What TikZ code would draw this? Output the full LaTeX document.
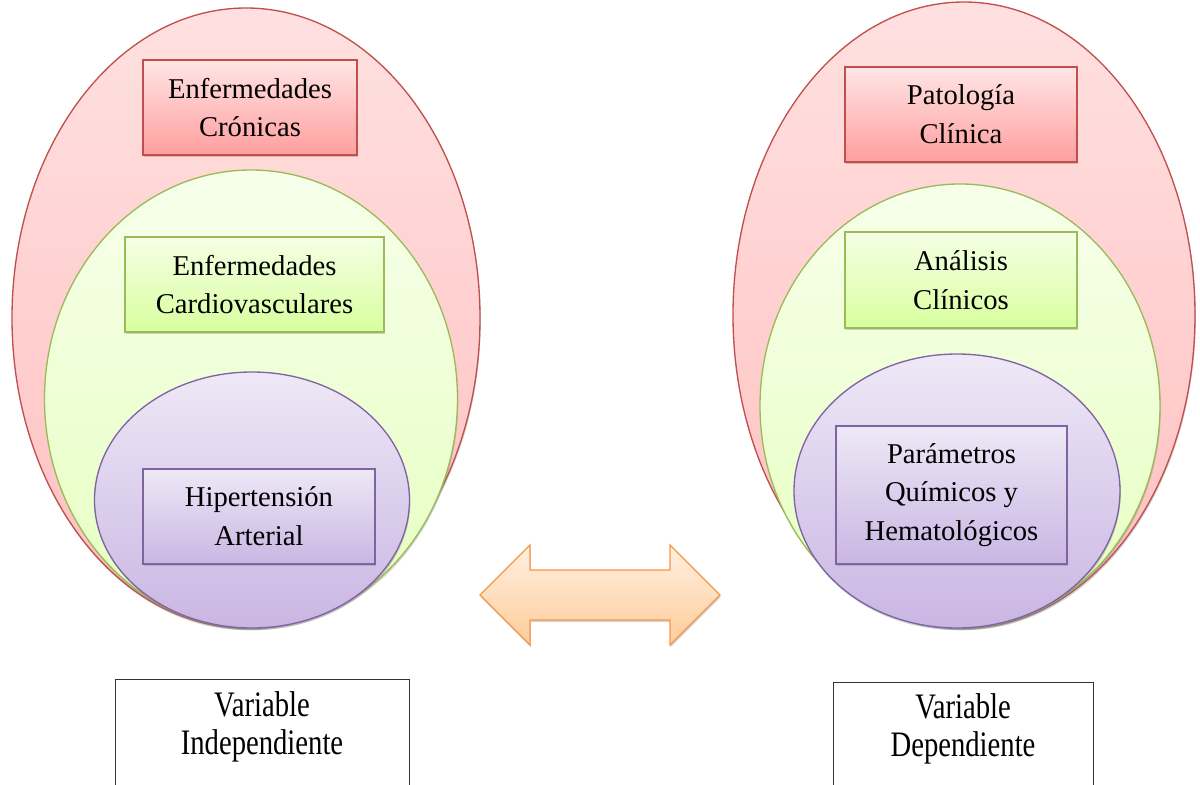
\documentclass[tikz,border=0pt]{standalone}
\usepackage{fontspec}
\setmainfont{Liberation Serif}
\newfontfamily\tnr{Liberation Serif}
\usetikzlibrary{shapes.geometric,shadows}
\definecolor{redline}{HTML}{C0504D}
\definecolor{greenline}{HTML}{9BBB59}
\definecolor{purpleline}{HTML}{8064A2}
\definecolor{orangeline}{HTML}{F79646}
\definecolor{purptop}{HTML}{EEE8F6}
\definecolor{purpbot}{HTML}{C9B6E3}
\tikzset{
  shd/.style={drop shadow={shadow xshift=0.6pt,shadow yshift=-1.6pt,opacity=0.35}},
  oval/.style={ellipse,inner sep=0pt,outer sep=0pt,line width=1pt,shd},
  redoval/.style={oval,draw=redline,top color=red!12!white,bottom color=red!25!white},
  greenoval/.style={oval,draw=greenline,top color=green!40!yellow!8!white,bottom color=green!40!yellow!25!white},
  purpleoval/.style={oval,draw=purpleline,top color=purptop,bottom color=purpbot},
  box/.style={rectangle,inner sep=0pt,line width=1pt,align=center,minimum height=71.25pt,
    font=\tnr\fontsize{21.5}{29}\selectfont,shd},
  redbox/.style={box,draw=redline,top color=red!10!white,bottom color=red!38!white},
  greenbox/.style={box,draw=greenline,top color=green!40!yellow!10!white,bottom color=green!40!yellow!38!white},
  purplebox/.style={box,draw=purpleline,top color=purptop,bottom color=purpbot},
  varbox/.style={rectangle,draw=black!80,line width=0.6pt,fill=white,anchor=north west,inner sep=0pt},
  vartext/.style={align=center,font=\tnr\fontsize{21.5}{29}\selectfont},
  dblarrow/.style={draw=orangeline,line width=1pt,line join=miter,
    top color=orange!12!white,bottom color=orange!40!white,shd}
}
\newcommand{\vs}[1]{\scalebox{1}[1.25]{#1}}
\begin{document}
\begin{tikzpicture}[x=0.75pt,y=-0.75pt]
\useasboundingbox (0,0) rectangle (1200,785);
\clip (0,0) rectangle (1200,785);
% left group
\node[redoval,minimum width=351pt,minimum height=465pt] (lred) at (246,318) {};
\node[greenoval,minimum width=309.75pt,minimum height=343.5pt] (lgreen) at (251,399) {};
\node[purpleoval,minimum width=236.25pt,minimum height=192pt] (lpurple) at (252,500) {};
\node[redbox,minimum width=160.5pt] (lredbox) at (250,107.5) {Enfermedades\\Crónicas};
\node[greenbox,minimum width=194.25pt] (lgreenbox) at (254.5,284.5) {Enfermedades\\Cardiovasculares};
\node[purplebox,minimum width=174pt] (lpurplebox) at (259,516.5) {Hipertensión\\Arterial};
% right group
\node[redoval,minimum width=346.5pt,minimum height=469.5pt] (rred) at (964,315) {};
\node[greenoval,minimum width=300pt,minimum height=333pt] (rgreen) at (960,406) {};
\node[purpleoval,minimum width=244.5pt,minimum height=205.5pt] (rpurple) at (957,491) {};
\node[redbox,minimum width=174pt] (rredbox) at (961,114.5) {Patología\\Clínica};
\node[greenbox,minimum width=174pt,minimum height=72pt] (rgreenbox) at (961,280) {Análisis\\Clínicos};
\node[purplebox,minimum width=173.25pt,minimum height=103.5pt] (rpurplebox) at (951.5,495) {Parámetros\\Químicos y\\Hematológicos};
% double arrow
\path[dblarrow] (480,595) -- (530,545) -- (530,570) -- (670,570) -- (670,545) -- (720,595)
  -- (670,645) -- (670,620) -- (530,620) -- (530,645) -- cycle;
% bottom boxes
\node[varbox,minimum width=220.5pt,minimum height=100pt] (vind) at (115,679) {};
\node[vartext] (vindtext) at (262,727) {\vs{Variable}\\\vs{Independiente}};
\node[varbox,minimum width=195pt,minimum height=100pt] (vdep) at (833,682) {};
\node[vartext] (vdeptext) at (963,729) {\vs{Variable}\\\vs{Dependiente}};
\end{tikzpicture}
\end{document}
